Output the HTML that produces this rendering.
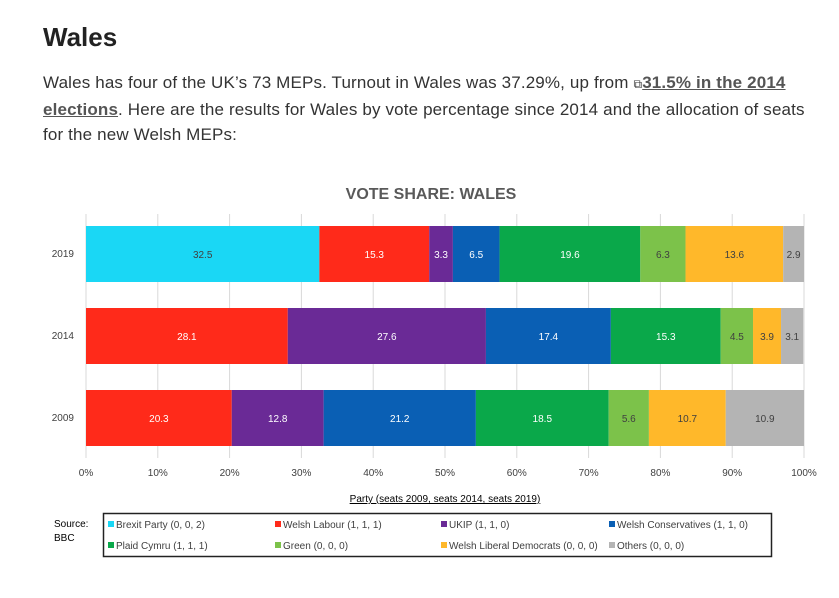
<!DOCTYPE html>
<html><head><meta charset="utf-8"><style>
body{margin:0;background:#fff;width:839px;height:598px;overflow:hidden;font-family:"Liberation Sans",sans-serif;}
h2{position:absolute;left:43px;top:22px;margin:0;font-size:26px;font-weight:800;color:#222;}
p.intro{position:absolute;left:43px;top:70px;width:796px;margin:0;font-size:17px;line-height:25px;color:#333;white-space:nowrap;letter-spacing:0.15px;}
p.intro a{color:#555;font-weight:bold;text-decoration:underline;}
</style></head><body>
<h2>Wales</h2>
<p class="intro">Wales has four of the UK’s 73 MEPs. Turnout in Wales was 37.29%, up from <span style="font-size:12px">⧉</span><a>31.5% in the 2014<br>elections</a>. Here are the results for Wales by vote percentage since 2014 and the allocation of seats<br>for the new Welsh MEPs:</p>
<svg id="chart" width="839" height="598" style="position:absolute;left:0;top:0" font-family="Liberation Sans, sans-serif"></svg>
<script>
const years=["2019","2014","2009"];
const parties=["Brexit Party (0, 0, 2)","Welsh Labour (1, 1, 1)","UKIP (1, 1, 0)","Welsh Conservatives (1, 1, 0)","Plaid Cymru (1, 1, 1)","Green (0, 0, 0)","Welsh Liberal Democrats (0, 0, 0)","Others (0, 0, 0)"];
const colors=["#1ad7f5","#ff2a1a","#6a2a96","#0a5fb4","#0aa84a","#7cc24a","#ffb82a","#b4b4b4"];
const v2019=[32.5,15.3,3.3,6.5,19.6,6.3,13.6,2.9];
const v2014=[0,28.1,27.6,17.4,15.3,4.5,3.9,3.1];
const v2009=[0,20.3,12.8,21.2,18.5,5.6,10.7,10.9];
const ticks=[0,10,20,30,40,50,60,70,80,90,100];
const series=[v2019,v2014,v2009];
const svg=document.getElementById('chart');
const NS="http://www.w3.org/2000/svg";
const x=v=>86+v*7.18;
const yTop=i=>226+i*82;
function mk(t,a,parent){const e=document.createElementNS(NS,t);for(const k in a)e.setAttribute(k,a[k]);(parent||svg).appendChild(e);return e;}
let t=mk('text',{x:431,y:199,'text-anchor':'middle','font-size':16,'font-weight':'bold',fill:'#595959'});t.textContent='VOTE SHARE: WALES';


ticks.forEach(v=>{
 const l=mk('line',{x1:x(v),x2:x(v),y1:214,y2:458,stroke:'#d9d9d9','stroke-width':1});
 
 
 const tt=mk('text',{x:x(v),y:476,'text-anchor':'middle','font-size':10,fill:'#404040'});tt.textContent=v+'%';
 
 
});
series.forEach((vals,i)=>{
 let c=0;
 const yl=mk('text',{x:74,y:yTop(i)+31,'text-anchor':'end','font-size':10,fill:'#404040'});yl.textContent=years[i];
 
 
 vals.forEach((v,j)=>{
  if(v>0){
   const r=mk('rect',{x:x(c),y:yTop(i),width:v*7.18,height:56,fill:colors[j]});
   
   
   const lt=mk('text',{x:x(c+v/2),y:yTop(i)+32,'text-anchor':'middle','font-size':10,fill:(j==0||j==5||j==6||j==7)?'#404040':'#fff'});lt.textContent=v;
   
   
  }
  c+=v;
 });
});
const at=mk('text',{x:445,y:502,'text-anchor':'middle','font-size':10,fill:'#000','text-decoration':'underline'});at.textContent='Party (seats 2009, seats 2014, seats 2019)';


const s1=mk('text',{x:54,y:527,'font-size':10,fill:'#000'});s1.textContent='Source:';


const s2=mk('text',{x:54,y:541,'font-size':10,fill:'#000'});s2.textContent='BBC';


const lb=mk('rect',{x:103.5,y:513.5,width:668,height:43,fill:'none',stroke:'#222','stroke-width':1.5});


const lx=[108,275,441,609,108,275,441,609];
parties.forEach((p,j)=>{
 const row=j<4?0:1; const xx=lx[j];
 const g=mk('g',{});
 
 
 mk('rect',{x:xx,y:521+row*21,width:6,height:6,fill:colors[j]},g);
 const tx=mk('text',{x:xx+8,y:528+row*21,'font-size':10,fill:'#404040'},g);tx.textContent=p;
});
</script>
</body></html>
